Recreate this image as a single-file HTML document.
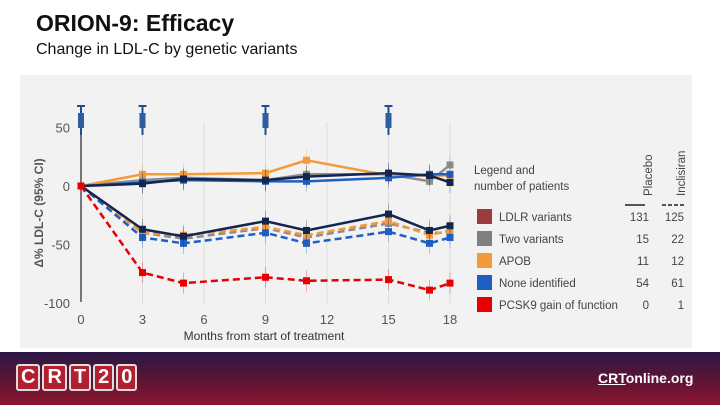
<!DOCTYPE html>
<html><head><meta charset="utf-8"><style>
body{margin:0;width:720px;height:405px;overflow:hidden;background:#fff;font-family:"Liberation Sans",sans-serif;position:relative}
.t{position:absolute;left:36px;top:10px;font-size:23px;font-weight:bold;color:#111}
.s{position:absolute;left:36px;top:41px;font-size:16px;color:#111}
.footer{position:absolute;left:0;top:352px;width:720px;height:53px;background:linear-gradient(#2a1646,#5a1535 50%,#8a1530)}
</style></head><body>
<div class="t">ORION-9: Efficacy</div>
<div class="s">Change in LDL-C by genetic variants</div>
<svg id="c" width="720" height="405" style="position:absolute;left:0;top:0"></svg>
<div class="footer">
<div style="position:absolute;left:16px;top:12px;display:flex;gap:2px">
<span style="background:#b02030;color:#fff;border:2px solid #ddd;border-radius:3px;font:bold 20px 'Liberation Sans';padding:0 3px">C</span><span style="background:#b02030;color:#fff;border:2px solid #ddd;border-radius:3px;font:bold 20px 'Liberation Sans';padding:0 3px">R</span><span style="background:#b02030;color:#fff;border:2px solid #ddd;border-radius:3px;font:bold 20px 'Liberation Sans';padding:0 3px">T</span><span style="background:#b02030;color:#fff;border:2px solid #ddd;border-radius:3px;font:bold 20px 'Liberation Sans';padding:0 3px">2</span><span style="background:#b02030;color:#fff;border:2px solid #ddd;border-radius:3px;font:bold 20px 'Liberation Sans';padding:0 3px">0</span></div>
<div style="position:absolute;left:598px;top:18px;color:#fff;font:bold 14px 'Liberation Sans'"><u>CRT</u>online.org</div>
</div>
<script>
const NS="http://www.w3.org/2000/svg";
const svg=document.getElementById('c');
const months=[0,3,5,9,11,15,17,18];
const xTicks=[0,3,6,9,12,15,18];
const yTicks=[50,0,-50,-100];
const ldlrPlacebo=[0,2,6,5,8,11,9,3];
const twoPlacebo=[0,5,7,5,10,10,4,18];
const apobPlacebo=[0,10,10,11,22,9,9,9];
const nonePlacebo=[0,3,5,4,4,7,10,10];
const ldlrInclisiran=[0,-37,-43,-30,-38,-24,-38,-34];
const twoInclisiran=[0,-40,-45,-36,-44,-32,-40,-40];
const apobInclisiran=[0,-40,-42,-35,-42,-30,-42,-38];
const noneInclisiran=[0,-44,-49,-40,-49,-39,-49,-44];
const pcsk9Inclisiran=[0,-74,-83,-78,-81,-80,-89,-83];
const injections=[0,3,9,15];
const legendLabels=["LDLR variants","Two variants","APOB","None identified","PCSK9 gain of function"];
const legendColors=["#9b3b3b","#808080","#f59a3a","#1f5fc4","#e60000"];
const placeboN=["131","15","11","54","0"];
const inclisiranN=["125","22","12","61","1"];
const X=m=>81+m*(369/18), Y=v=>186-v*1.17;
function el(t,a,p){const e=document.createElementNS(NS,t);for(const k in a)e.setAttribute(k,a[k]);(p||svg).appendChild(e);return e;}
let bg=el('rect',{x:20,y:75,width:672,height:273,fill:'#f2f2f2'});


xTicks.forEach(t=>{if(t>0){let g=el('line',{x1:X(t),x2:X(t),y1:122,y2:305,stroke:'#ddd','stroke-width':1});
}
let tx=el('text',{x:X(t),y:324,'text-anchor':'middle','font-size':13,fill:'#555'});tx.textContent=t;
});
let ax=el('line',{x1:81,x2:81,y1:110,y2:302,stroke:'#777','stroke-width':2});

yTicks.forEach(t=>{let tx=el('text',{x:70,y:Y(t)+5,'text-anchor':'end','font-size':13,fill:'#555'});tx.textContent=t;
});
let yt=el('text',{x:0,y:0,transform:'translate(43,213) rotate(-90)','text-anchor':'middle','font-size':12,'font-weight':'bold',fill:'#555'});yt.textContent='Δ% LDL-C (95% CI)';

let xt=el('text',{x:264,y:340,'text-anchor':'middle','font-size':12,fill:'#333'});xt.textContent='Months from start of treatment';

injections.forEach(m=>{const g=el('g',{});

const x=X(m);el('line',{x1:x-4,x2:x+4,y1:106,y2:106,stroke:'#1f4e8c','stroke-width':2},g);
el('line',{x1:x,x2:x,y1:106,y2:135,stroke:'#1f4e8c','stroke-width':2},g);
el('rect',{x:x-3,y:113,width:6,height:15,fill:'#2d5e9e'},g);});
function series(vals,color,dash,name){
const g=el('g',{});
vals.forEach((v,i)=>{if(i>0){el('line',{x1:X(months[i]),x2:X(months[i]),y1:Y(v+9),y2:Y(v-9),stroke:color,'stroke-width':0.6,opacity:0.5},g);}});
el('polyline',{points:vals.map((v,i)=>X(months[i])+','+Y(v)).join(' '),fill:'none',stroke:color,'stroke-width':dash?2.5:2.5,'stroke-dasharray':dash?'7,4':'none'},g);
vals.forEach((v,i)=>{el('rect',{x:X(months[i])-3.5,y:Y(v)-3.5,width:7,height:7,fill:color},g);});}
series(twoPlacebo,'#8c8c8c',false,'two-variants-placebo-line');
series(apobPlacebo,'#f59a3a',false,'apob-placebo-line');
series(nonePlacebo,'#1f5fc4',false,'none-identified-placebo-line');
series(ldlrPlacebo,'#13264f',false,'ldlr-placebo-line');
series(twoInclisiran,'#8c8c8c',true,'two-variants-inclisiran-line');
series(apobInclisiran,'#f59a3a',true,'apob-inclisiran-line');
series(noneInclisiran,'#1f5fc4',true,'none-identified-inclisiran-line');
series(ldlrInclisiran,'#13264f',false,'ldlr-inclisiran-line');
series(pcsk9Inclisiran,'#e60000',true,'pcsk9-inclisiran-line');
let lt=el('text',{x:474,y:174,'font-size':11.5,fill:'#444'});lt.textContent='Legend and';

let lt2=el('text',{x:474,y:190,'font-size':11.5,fill:'#444'});lt2.textContent='number of patients';

let ph=el('text',{x:0,y:0,transform:'translate(652,196) rotate(-90)','font-size':11.5,fill:'#444'});ph.textContent='Placebo';

let ih=el('text',{x:0,y:0,transform:'translate(685,196) rotate(-90)','font-size':11.5,fill:'#444'});ih.textContent='Inclisiran';

el('line',{x1:625,x2:645,y1:205,y2:205,stroke:'#555','stroke-width':2});
el('line',{x1:662,x2:686,y1:205,y2:205,stroke:'#555','stroke-width':2,'stroke-dasharray':'4,2'});
legendLabels.forEach((l,i)=>{const y=217+i*22;
const r=el('rect',{x:477,y:y-8,width:15,height:15,fill:legendColors[i]});

const t=el('text',{x:499,y:y+4,'font-size':11.5,fill:'#444'});t.textContent=l;

const a=el('text',{x:649,y:y+4,'text-anchor':'end','font-size':11.5,fill:'#444'});a.textContent=placeboN[i];

const b=el('text',{x:684,y:y+4,'text-anchor':'end','font-size':11.5,fill:'#444'});b.textContent=inclisiranN[i];
});
</script>
</body></html>
